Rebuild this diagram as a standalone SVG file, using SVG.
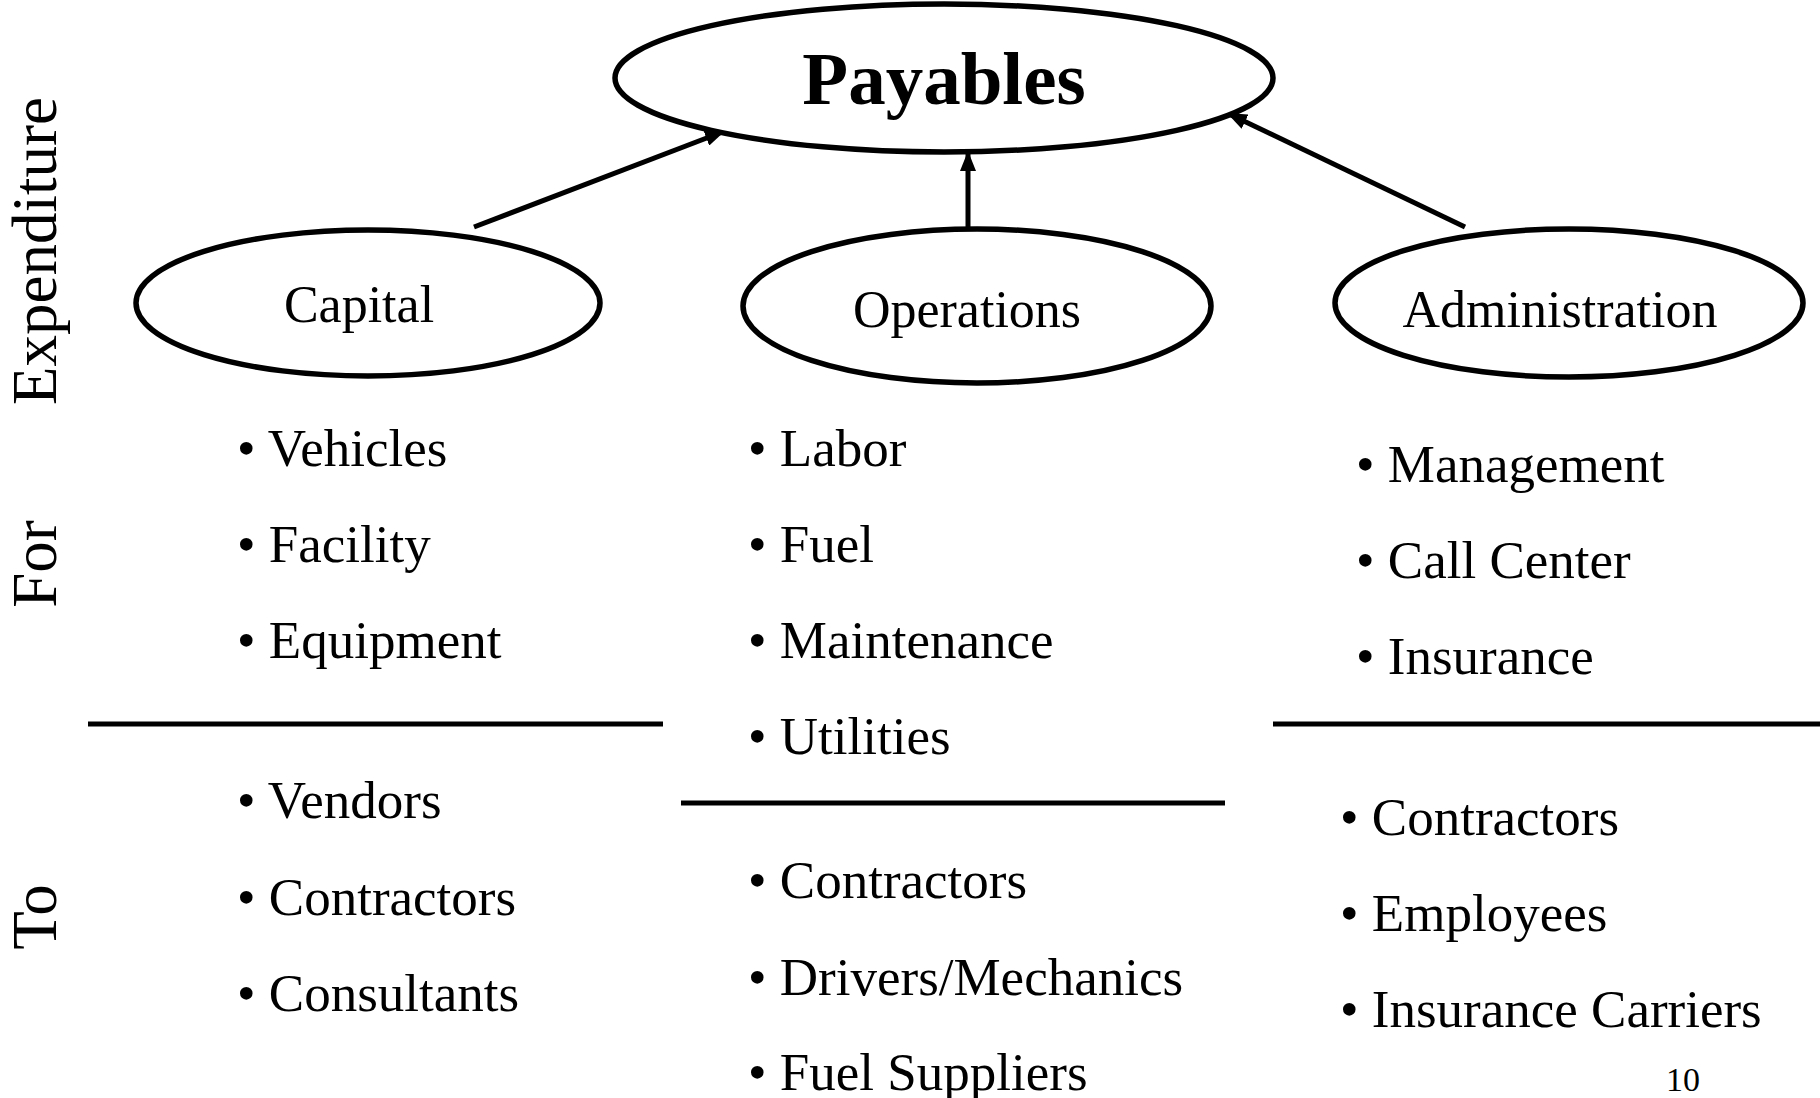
<svg xmlns="http://www.w3.org/2000/svg" width="1820" height="1098" viewBox="0 0 1820 1098">
<style>
.node ellipse{fill:#fff;stroke:#000;stroke-width:5.5}
.lbl{font-family:"Liberation Serif","Times New Roman",serif;fill:#000}
.item{font-family:"Liberation Serif","Times New Roman",serif;font-size:53px;fill:#000}
.side{font-family:"Liberation Serif","Times New Roman",serif;font-size:63px;fill:#000}
.conn line{stroke:#000;stroke-width:5}
.sep{stroke:#000;stroke-width:5}
</style>
<defs>
<marker id="arr" markerUnits="userSpaceOnUse" markerWidth="22" markerHeight="16" refX="20" refY="8" orient="auto">
<path d="M0,0 L20,8 L0,16 Z" fill="#000"/>
</marker>
</defs>
<rect width="1820" height="1098" fill="#fff"/>
<g id="connectors" class="conn">
<line x1="474" y1="227" x2="725" y2="131" marker-end="url(#arr)"/>
<line x1="968" y1="244" x2="968" y2="151" marker-end="url(#arr)"/>
<line x1="1465" y1="227" x2="1227" y2="113" marker-end="url(#arr)"/>
</g>
<g id="payables" class="node">
<ellipse cx="944" cy="78" rx="329" ry="74"/>
<text class="lbl" x="944" y="104" font-size="75" font-weight="bold" text-anchor="middle">Payables</text>
</g>
<g id="capital" class="node">
<ellipse cx="368" cy="303" rx="232" ry="73"/>
<text class="lbl" x="359" y="322" font-size="52" text-anchor="middle">Capital</text>
</g>
<g id="operations" class="node">
<ellipse cx="977" cy="306" rx="234" ry="77"/>
<text class="lbl" x="967" y="327" font-size="52" text-anchor="middle">Operations</text>
</g>
<g id="administration" class="node">
<ellipse cx="1569" cy="303" rx="234" ry="74"/>
<text class="lbl" x="1560" y="327" font-size="52" text-anchor="middle">Administration</text>
</g>
<g id="side-labels">
<text class="side" transform="translate(56,251) rotate(-90)" text-anchor="middle">Expenditure</text>
<text class="side" transform="translate(56,564) rotate(-90)" text-anchor="middle">For</text>
<text class="side" transform="translate(56,917) rotate(-90)" text-anchor="middle">To</text>
</g>
<g id="separators">
<line class="sep" x1="88" y1="724" x2="663" y2="724"/>
<line class="sep" x1="681" y1="803" x2="1225" y2="803"/>
<line class="sep" x1="1273" y1="724" x2="1820" y2="724"/>
</g>
<g id="capital-items">
<text class="item" x="237" y="466">• Vehicles</text>
<text class="item" x="237" y="562">• Facility</text>
<text class="item" x="237" y="658">• Equipment</text>
<text class="item" x="237" y="818">• Vendors</text>
<text class="item" x="237" y="915">• Contractors</text>
<text class="item" x="237" y="1011">• Consultants</text>
</g>
<g id="operations-items">
<text class="item" x="748" y="466">• Labor</text>
<text class="item" x="748" y="562">• Fuel</text>
<text class="item" x="748" y="658">• Maintenance</text>
<text class="item" x="748" y="754">• Utilities</text>
<text class="item" x="748" y="898">• Contractors</text>
<text class="item" x="748" y="995">• Drivers/Mechanics</text>
<text class="item" x="748" y="1090">• Fuel Suppliers</text>
</g>
<g id="administration-items">
<text class="item" x="1356" y="482">• Management</text>
<text class="item" x="1356" y="578">• Call Center</text>
<text class="item" x="1356" y="674">• Insurance</text>
<text class="item" x="1340" y="835">• Contractors</text>
<text class="item" x="1340" y="931">• Employees</text>
<text class="item" x="1340" y="1027">• Insurance Carriers</text>
</g>
<text class="lbl" x="1666" y="1091" font-size="34">10</text>
</svg>
